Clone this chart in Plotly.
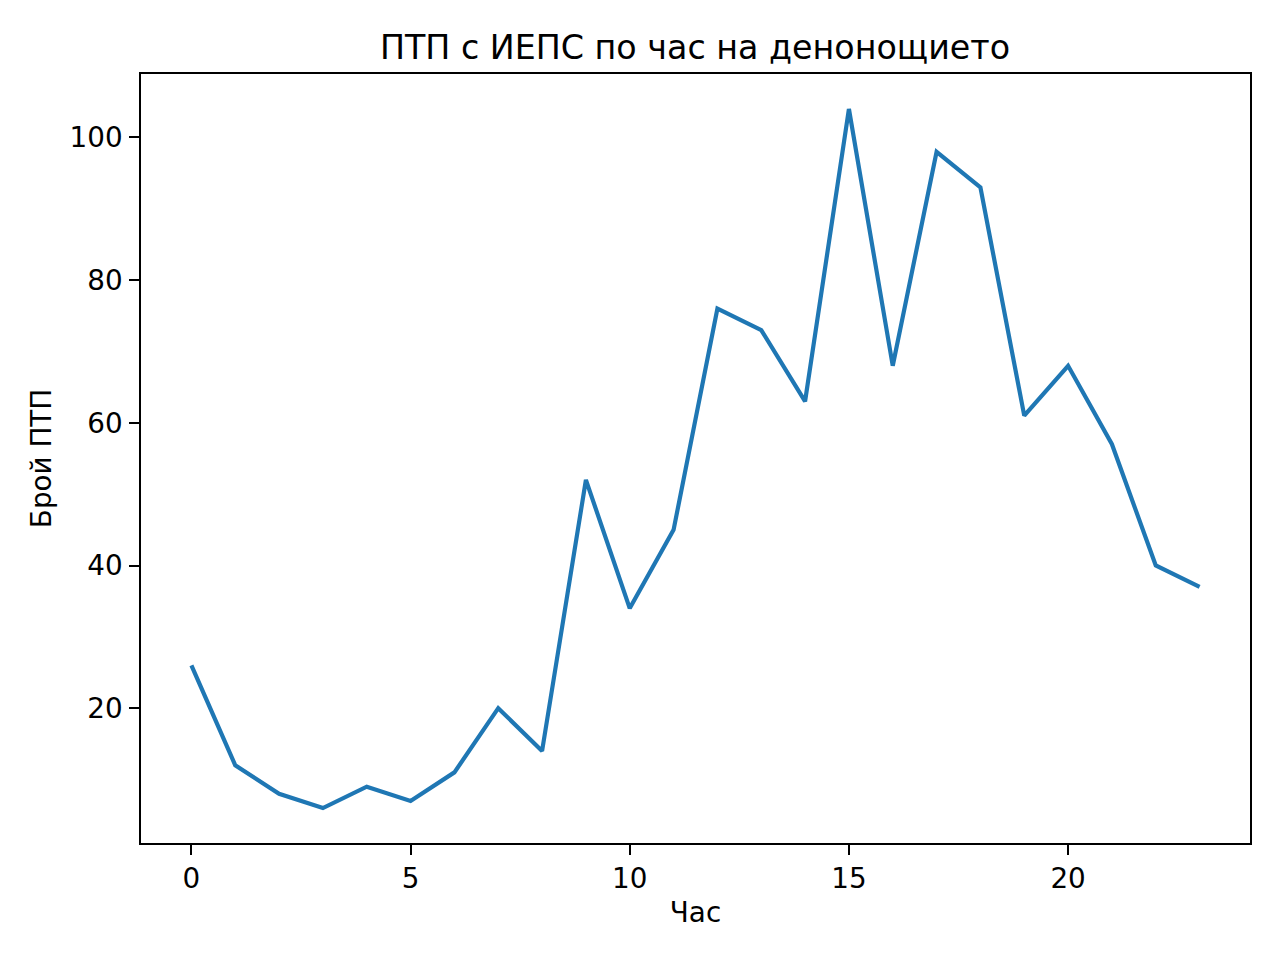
import plotly.graph_objects as go

# hour of day vs number of accidents
hours = list(range(24))
accidents = [26, 12, 8, 6, 9, 7, 11, 20, 14, 52, 34, 45,
             76, 73, 63, 104, 68, 98, 93, 61, 68, 57, 40, 37]

x_ticks = [0, 5, 10, 15, 20]
y_ticks = [20, 40, 60, 80, 100]

font = "DejaVu Sans"
tick_px = 27.8  # 10pt at 200 dpi

fig = go.Figure()
fig.add_trace(
    go.Scatter(
        x=hours,
        y=accidents,
        mode="lines",
        line=dict(color="#1f77b4", width=4.2),
        showlegend=False,
    )
)

axis_common = dict(
    showgrid=False,
    zeroline=False,
    showline=True,
    linecolor="black",
    linewidth=2.2,
    mirror=True,
    ticks="outside",
    ticklen=9.7,
    tickwidth=2.2,
    tickcolor="black",
    tickfont=dict(family=font, size=tick_px, color="black"),
)

fig.update_xaxes(
    range=[-1.15, 24.15],
    tickvals=x_ticks,
    ticklabelstandoff=0,
    title=dict(text="Час", font=dict(family=font, size=tick_px, color="black"), standoff=8),
    **axis_common,
)
fig.update_yaxes(
    range=[1.1, 108.9],
    tickvals=y_ticks,
    ticklabelstandoff=1,
    title=dict(text="Брой ПТП", font=dict(family=font, size=tick_px, color="black"), standoff=10),
    **axis_common,
)

# page body adds an 8px offset, so margins are shifted to compensate
fig.update_layout(
    width=1280,
    height=960,
    margin=dict(l=133, r=38, t=66, b=125),
    paper_bgcolor="white",
    plot_bgcolor="white",
    title=dict(
        text="ПТП с ИЕПС по час на денонощието",
        font=dict(family=font, size=33.3, color="black"),
        x=687 / 1280,
        xanchor="center",
        yref="container",
        y=1 - 39 / 960,
        yanchor="middle",
    ),
)

fig.write_html("out.html")
